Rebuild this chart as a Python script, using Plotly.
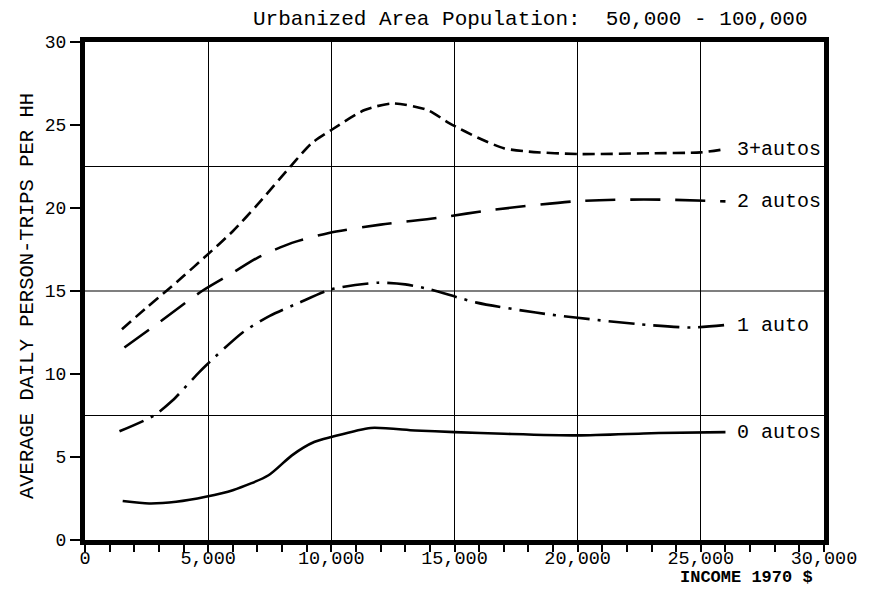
import plotly.graph_objects as go

# ---- data (income 1970 $, average daily person-trips per HH) ----
inc_3 = [1500, 2500, 3300, 4000, 4830, 6000, 7000, 8400, 9200, 10000, 11350, 12500,
         13900, 14800, 16000, 17000, 18000, 20000, 23000, 25000, 26000]
trips_3 = [12.7, 14.0, 15.0, 15.9, 17.0, 18.6, 20.2, 22.6, 23.9, 24.7, 25.9, 26.3,
           25.9, 25.1, 24.2, 23.6, 23.4, 23.25, 23.3, 23.35, 23.55]

inc_2 = [1600, 3000, 4750, 6000, 7000, 8400, 9900, 12000, 14300, 16600, 19850, 21700, 23650, 26000]
trips_2 = [11.6, 13.1, 15.0, 16.1, 17.0, 17.9, 18.5, 19.0, 19.4, 19.9, 20.4, 20.5, 20.5, 20.4]

inc_1 = [1400, 2800, 3550, 4630, 4900, 6400, 7500, 8700, 10000, 11900, 13000, 14000,
         15900, 18300, 19900, 22500, 24600, 26000]
trips_1 = [6.55, 7.5, 8.4, 10.1, 10.5, 12.5, 13.5, 14.3, 15.1, 15.5, 15.4, 15.1,
           14.3, 13.7, 13.4, 13.0, 12.8, 12.95]

inc_0 = [1530, 2600, 3700, 4900, 6000, 7450, 8400, 9300, 10000, 11600, 13400, 15000,
         17000, 20000, 23300, 26000]
trips_0 = [2.35, 2.2, 2.3, 2.6, 3.0, 3.9, 5.1, 5.9, 6.2, 6.75, 6.6, 6.5,
           6.4, 6.3, 6.45, 6.5]

series_names = ["3+autos", "2 autos", "1 auto", "0 autos"]
y_ticks = [0, 5, 10, 15, 20, 25, 30]
x_ticks = [0, 5000, 10000, 15000, 20000, 25000, 30000]
x_ticktext = ["0", "5,000", "10,000", "15,000", "20,000", "25,000", "30,000"]
h_grid = [7.5, 15, 22.5]

FONT = "Liberation Mono, Courier New, monospace"

fig = go.Figure()
series = [
    (inc_3, trips_3, "12px,6px"),
    (inc_2, trips_2, "30px,15px"),
    (inc_1, trips_1, "26px,8px,3px,8px"),
    (inc_0, trips_0, "solid"),
]
for (xs, ys, dash), name in zip(series, series_names):
    fig.add_trace(go.Scatter(
        x=xs, y=ys, mode="lines", name=name,
        line=dict(color="black", width=2.6, dash=dash, shape="spline", smoothing=0.7),
        showlegend=False, hoverinfo="skip"))
    fig.add_annotation(x=xs[-1], y=ys[-1], text=name, showarrow=False,
                       xanchor="left", yanchor="middle", xshift=10,
                       font=dict(family=FONT, size=20, color="black"))

for g in h_grid:
    fig.add_shape(type="line", xref="paper", yref="y", x0=0, x1=1, y0=g, y1=g,
                  line=dict(color="black", width=1.2), layer="below")

fig.update_layout(
    width=869, height=590,
    margin=dict(l=85, r=39, t=42, b=50),
    paper_bgcolor="white", plot_bgcolor="white",
    font=dict(family=FONT, color="black"),
    annotations=list(fig.layout.annotations) + [
        dict(text="Urbanized Area Population:  50,000 - 100,000", xref="paper", yref="paper",
             x=0.603, y=1.0, yshift=23, xanchor="center", yanchor="middle", showarrow=False,
             font=dict(family=FONT, size=21, color="black")),
        dict(text="AVERAGE DAILY PERSON-TRIPS PER HH", xref="paper", yref="paper",
             x=0, xshift=-57, y=0.49, textangle=-90, xanchor="center", yanchor="middle",
             showarrow=False, font=dict(family=FONT, size=20.5, color="black")),
        dict(text="<b>INCOME 1970 $</b>", xref="paper", yref="paper",
             x=0.895, y=0, yshift=-49, xanchor="center", yanchor="bottom", showarrow=False,
             font=dict(family=FONT, size=17, color="black")),
    ],
)

fig.update_xaxes(
    range=[0, 30000], tickvals=x_ticks, ticktext=x_ticktext,
    showgrid=True, gridcolor="black", gridwidth=1.2,
    showline=True, linecolor="black", linewidth=5, mirror=True,
    ticks="outside", ticklen=7, tickwidth=2, tickcolor="black",
    ticklabelstandoff=-10,
    minor=dict(dtick=1000, ticks="outside", ticklen=7, tickwidth=2, tickcolor="black", showgrid=False),
    tickfont=dict(family=FONT, size=18.5, color="black"),
    zeroline=False,
)
fig.update_yaxes(
    range=[0, 30], tickvals=y_ticks,
    showgrid=False,
    showline=True, linecolor="black", linewidth=5, mirror=True,
    ticks="outside", ticklen=10, tickwidth=2, tickcolor="black",
    tickfont=dict(family=FONT, size=18, color="black"),
    zeroline=False,
)

fig.write_html("out.html")
